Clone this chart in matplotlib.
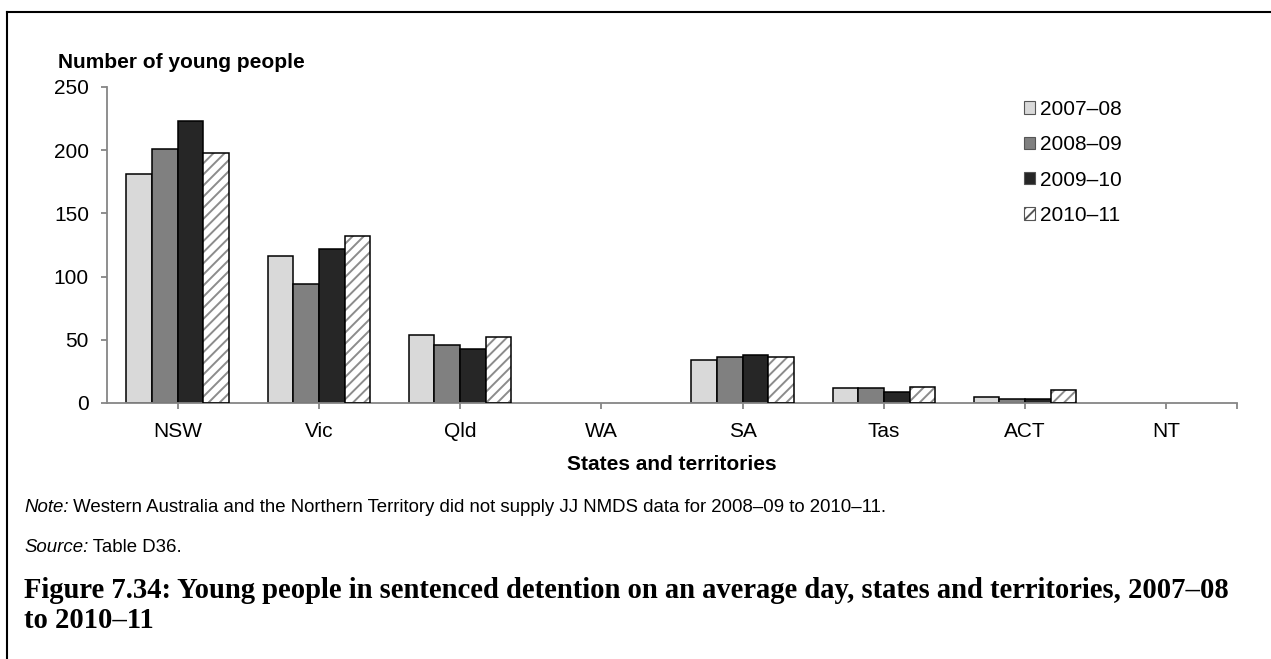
import matplotlib
matplotlib.use('Agg')
import matplotlib.pyplot as plt
import numpy as np
from matplotlib.patches import Patch
from matplotlib.lines import Line2D

# ---------------- data ----------------
categories = ['NSW', 'Vic', 'Qld', 'WA', 'SA', 'Tas', 'ACT', 'NT']
years = ['2007–08', '2008–09', '2009–10', '2010–11']
nan = np.nan
v_2007_08 = [181, 116, 54, nan, 34, 12, 5, nan]
v_2008_09 = [201, 94, 46, nan, 36, 12, 3, nan]
v_2009_10 = [223, 122, 43, nan, 38, 9, 3, nan]
v_2010_11 = [198, 132, 52, nan, 36, 13, 10, nan]
y_ticks = [0, 50, 100, 150, 200, 250]

ylabel = 'Number of young people'
xlabel = 'States and territories'
note_lead = 'Note:'
note_rest = ' Western Australia and the Northern Territory did not supply JJ NMDS data for 2008–09 to 2010–11.'
source_lead = 'Source:'
source_rest = ' Table D36.'
title1 = 'Figure 7.34: Young people in sentenced detention on an average day, states and territories, 2007–08'
title2 = 'to 2010–11'

# ---------------- style ----------------
W, H = 1271, 659
plt.rcParams['font.family'] = ['Liberation Sans', 'DejaVu Sans']
plt.rcParams['hatch.linewidth'] = 1.4

fills = ['#d9d9d9', '#808080', '#262626', 'white']
hatches = [None, None, None, '///']
hatch_col = '#8c8c8c'
axis_col = '#868686'

fig = plt.figure(figsize=(W / 100, H / 100), dpi=100)


def fx(x):
    return x / W


def fy(y):
    return 1 - y / H


ax_left, ax_right, ax_top, ax_bottom = 107, 1237, 87, 403
ax = fig.add_axes([fx(ax_left), fy(ax_bottom), (ax_right - ax_left) / W, (ax_bottom - ax_top) / H])

x = np.arange(len(categories))
bw = 1 / 5.5
series = [v_2007_08, v_2008_09, v_2009_10, v_2010_11]
for i, vals in enumerate(series):
    off = (i - 1.5) * bw
    vals = np.array(vals, dtype=float)
    if hatches[i]:
        ax.bar(x + off, vals, bw, color=fills[i], hatch=hatches[i],
               edgecolor=hatch_col, linewidth=0, zorder=2)
        ax.bar(x + off, vals, bw, facecolor='none', edgecolor='black',
               linewidth=1.1, zorder=3)
    else:
        ax.bar(x + off, vals, bw, color=fills[i], edgecolor='black',
               linewidth=1.1, zorder=2)

ax.set_xlim(-0.5, len(categories) - 0.5)
ax.set_ylim(0, 250)
ax.set_yticks(y_ticks)
ax.set_xticks(x)
ax.set_xticklabels(categories)
ax.set_xticks([len(categories) - 0.5], minor=True)

for s in ['top', 'right']:
    ax.spines[s].set_visible(False)
for s in ['left', 'bottom']:
    ax.spines[s].set_color(axis_col)
    ax.spines[s].set_linewidth(1.3)

ax.tick_params(axis='both', which='both', colors=axis_col, length=4, width=1.3,
               direction='out', labelcolor='black', labelsize=15)
ax.tick_params(axis='y', pad=9)
ax.tick_params(axis='x', pad=9.5)

ax.set_xlabel(xlabel, fontsize=15, fontweight='bold')
ax.xaxis.set_label_coords(0.5, (ax_bottom - 465) / (ax_bottom - ax_top))
ax.xaxis.label.set_va('center')

ax.set_ylabel(ylabel, fontsize=15, fontweight='bold', rotation=0)
ax.yaxis.set_label_coords((58 - ax_left) / (ax_right - ax_left), (ax_bottom - 62) / (ax_bottom - ax_top))
ax.yaxis.label.set_ha('left')
ax.yaxis.label.set_va('center')

# legend
handles = []
for i in range(4):
    if hatches[i]:
        handles.append(Patch(facecolor=fills[i], hatch=hatches[i], edgecolor='#555555', linewidth=0.8))
    else:
        handles.append(Patch(facecolor=fills[i], edgecolor='#555555', linewidth=0.8))
leg = ax.legend(handles, years, loc='upper right', bbox_to_anchor=(fx(1122), fy(100)),
                bbox_transform=fig.transFigure, frameon=False, fontsize=15,
                handlelength=0.55, handleheight=0.55, handletextpad=0.25,
                labelspacing=0.78, borderpad=0, borderaxespad=0)

# footnotes
fig.canvas.draw()
renderer = fig.canvas.get_renderer()


def lead_text(y, lead, rest, size):
    t1 = fig.text(fx(24), fy(y), lead, fontsize=size, style='italic', va='center', ha='left')
    bb = t1.get_window_extent(renderer)
    t2 = fig.text(bb.x1 / W, fy(y), rest, fontsize=size, va='center', ha='left')
    return t1, t2


# fit note size so its line ends near x = 890
n1, n2 = lead_text(507, note_lead, note_rest, 12.5)
end = n2.get_window_extent(renderer).x1
note_size = 12.5 * (890 - 24) / (end - 24)
n1.remove()
n2.remove()
lead_text(507, note_lead, note_rest, note_size)
lead_text(547, source_lead, source_rest, note_size)

t = fig.text(fx(24), fy(590), title1, fontsize=18, fontweight='bold', va='center', ha='left',
             family=['Liberation Serif', 'DejaVu Serif'])
wcur = t.get_window_extent(renderer).width
t.set_fontsize(18 * (1229 - 24) / wcur)
fig.text(fx(24), fy(621), title2, fontsize=t.get_fontsize(), fontweight='bold', va='center',
         ha='left', family=['Liberation Serif', 'DejaVu Serif'])

# frame lines (left and top)
fig.add_artist(Line2D([fx(7), fx(7)], [fy(12), 0], color='black', lw=1.5, transform=fig.transFigure))
fig.add_artist(Line2D([fx(7), 1], [fy(12), fy(12)], color='black', lw=1.5, transform=fig.transFigure))

fig.savefig('out.png', dpi=100)
